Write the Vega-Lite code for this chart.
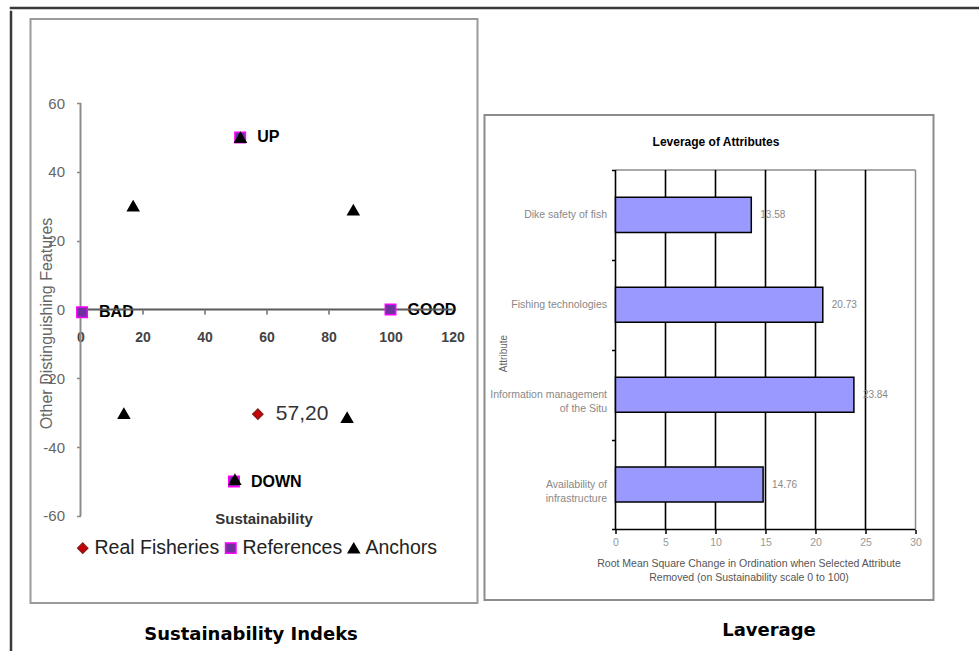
{
  "$schema": "https://vega.github.io/schema/vega-lite/v6.json",
  "padding": {"left": 9, "top": 6, "right": 0, "bottom": 0},
  "background": "white",
  "config": {"font": "Liberation Sans"},
  "spacing": 0,
  "vconcat": [
    {
      "width": 967,
      "height": 0.01,
      "view": {"stroke": "#3a3a3a", "strokeWidth": 2.5},
      "data": {"values": []},
      "mark": "point"
    },
    {
      "spacing": 16.5,
      "hconcat": [
        {
          "width": 0.01,
          "height": 640,
          "view": {"stroke": "#3a3a3a", "strokeWidth": 2.5},
          "data": {"values": []},
          "mark": "point"
        },
        {
          "spacing": 0,
          "vconcat": [
            {
              "width": 10,
              "height": 5.5,
              "view": {"stroke": null},
              "data": {"values": []},
              "mark": "point"
            },
            {
              "spacing": 5,
              "hconcat": [
                {
                  "width": 447,
                  "height": 584,
                  "view": {"stroke": "#9a9a9a", "strokeWidth": 2},
                  "title": {"text": "Sustainability Indeks", "orient": "bottom", "anchor": "middle", "offset": 23, "dx": -3, "font": "DejaVu Sans", "fontSize": 18, "fontWeight": "bold", "color": "#000000"},
                  "data": {
                    "values": [
                      {"series": "References", "sustainability": 0.5, "other": -0.8, "label": "BAD"},
                      {"series": "References", "sustainability": 100, "other": 0, "label": "GOOD"},
                      {"series": "References", "sustainability": 51.5, "other": 50, "label": "UP"},
                      {"series": "References", "sustainability": 49.5, "other": -50, "label": "DOWN"},
                      {"series": "Anchors", "sustainability": 51.6, "other": 50, "label": ""},
                      {"series": "Anchors", "sustainability": 49.8, "other": -49.4, "label": ""},
                      {"series": "Anchors", "sustainability": 17, "other": 30.1, "label": ""},
                      {"series": "Anchors", "sustainability": 88, "other": 28.9, "label": ""},
                      {"series": "Anchors", "sustainability": 14, "other": -30.2, "label": ""},
                      {"series": "Anchors", "sustainability": 86, "other": -31.4, "label": ""},
                      {"series": "Real Fisheries", "sustainability": 57.2, "other": -30.4, "label": "57,20"}
                    ]
                  },
                  "layer": [
                    {
                      "transform": [{"filter": "datum.series === 'References'"}],
                      "mark": {"type": "text", "align": "left", "baseline": "middle", "dx": 17, "fontSize": 16, "fontWeight": "bold", "color": "#000000"},
                      "encoding": {
                        "x": {"field": "sustainability", "type": "quantitative", "scale": {"domain": [-16.13, 128.06], "nice": false, "zero": false},
                          "axis": {"orient": "bottom", "offset": -293, "values": [0, 20, 40, 60, 80, 100, 120], "domain": false, "grid": false, "tickColor": "#666666", "tickSize": 4, "tickWidth": 1.5, "labelFont": "Liberation Sans", "labelFontSize": 14, "labelFontWeight": "bold", "labelColor": "#444444", "labelPadding": 16, "title": "Sustainability", "titleFont": "Liberation Sans", "titleFontSize": 15, "titleFontWeight": "bold", "titleColor": "#333333", "titleX": 233, "titleY": 208, "titleAlign": "center", "titleBaseline": "middle"}},
                        "y": {"field": "other", "type": "quantitative", "scale": {"domain": [-85.28, 84.41], "nice": false, "zero": false},
                          "axis": {"orient": "left", "offset": -50, "values": [-60, -40, -20, 0, 20, 40, 60], "domain": false, "grid": false, "tickColor": "#888888", "tickSize": 4, "tickWidth": 1.5, "labelFont": "Liberation Sans", "labelFontSize": 15, "labelColor": "#666666", "labelPadding": 12, "labelExpr": "datum.value < 0 ? '-' + abs(datum.value) : '' + datum.value", "title": "Other Distinguishing Features", "titleFont": "Liberation Sans", "titleFontSize": 16, "titleFontWeight": "normal", "titleColor": "#666666", "titleAngle": -90, "titleX": -34, "titleY": 304, "titleAlign": "center", "titleBaseline": "middle"}},
                        "text": {"field": "label"}
                      }
                    },
                    {
                      "transform": [{"filter": "datum.series === 'Real Fisheries'"}],
                      "mark": {"type": "text", "align": "left", "baseline": "middle", "dx": 18, "fontSize": 21, "color": "#333333"},
                      "encoding": {
                        "x": {"field": "sustainability", "type": "quantitative", "scale": {"domain": [-16.13, 128.06], "nice": false, "zero": false}},
                        "y": {"field": "other", "type": "quantitative", "scale": {"domain": [-85.28, 84.41], "nice": false, "zero": false}},
                        "text": {"field": "label"}
                      }
                    },
                    {
                      "data": {"values": [{}]},
                      "mark": {"type": "rule", "color": "#8c8c8c", "strokeWidth": 2},
                      "encoding": {
                        "x": {"datum": 0, "scale": {"domain": [-16.13, 128.06], "nice": false, "zero": false}},
                        "y": {"datum": -60, "scale": {"domain": [-85.28, 84.41], "nice": false, "zero": false}},
                        "y2": {"datum": 60}
                      }
                    },
                    {
                      "data": {"values": [{}]},
                      "mark": {"type": "rule", "color": "#5a5a5a", "strokeWidth": 2},
                      "encoding": {
                        "y": {"datum": 0, "scale": {"domain": [-85.28, 84.41], "nice": false, "zero": false}},
                        "x": {"datum": 0, "scale": {"domain": [-16.13, 128.06], "nice": false, "zero": false}},
                        "x2": {"datum": 120}
                      }
                    },
                    {
                      "mark": {"type": "point", "filled": true, "opacity": 1, "strokeWidth": 1.5},
                      "encoding": {
                        "x": {"field": "sustainability", "type": "quantitative", "scale": {"domain": [-16.13, 128.06], "nice": false, "zero": false}},
                        "y": {"field": "other", "type": "quantitative", "scale": {"domain": [-85.28, 84.41], "nice": false, "zero": false}},
                        "shape": {"field": "series", "type": "nominal",
                          "scale": {"domain": ["Real Fisheries", "References", "Anchors"], "range": ["diamond", "square", "triangle-up"]},
                          "legend": {"orient": "none", "legendX": 62, "legendY": 530, "direction": "horizontal", "title": null, "padding": 0, "labelFont": "Liberation Sans", "labelFontSize": 19.5, "labelColor": "#222222", "labelOffset": 2, "columnPadding": 1, "symbolStrokeWidth": 1.5}},
                        "fill": {"field": "series", "type": "nominal", "scale": {"domain": ["Real Fisheries", "References", "Anchors"], "range": ["#cc0000", "#7030a0", "#000000"]}},
                        "stroke": {"field": "series", "type": "nominal", "scale": {"domain": ["Real Fisheries", "References", "Anchors"], "range": ["#8b1a1a", "#ff00ff", "#000000"]}},
                        "size": {"field": "series", "type": "nominal", "scale": {"domain": ["Real Fisheries", "References", "Anchors"], "range": [100, 120, 70]}}
                      }
                    }
                  ]
                },
                {
                  "spacing": 0,
                  "title": {"text": "Laverage", "orient": "bottom", "anchor": "middle", "offset": 21, "dx": 60, "font": "DejaVu Sans", "fontSize": 18, "fontWeight": "bold", "color": "#000000"},
                  "vconcat": [
                    {
                      "width": 449,
                      "height": 90,
                      "view": {"stroke": null},
                      "data": {"values": []},
                      "mark": "point"
                    },
                    {
                      "width": 449,
                      "height": 485,
                      "view": {"stroke": "#8c8c8c", "strokeWidth": 2},
                      "title": {"text": "Leverage of Attributes", "orient": "top", "anchor": "middle", "offset": -39, "dx": 7, "font": "Liberation Sans", "fontSize": 12, "fontWeight": "bold", "color": "#000000"},
                      "data": {
                        "values": [
                          {"attribute": "Dike safety of fish", "rms": 13.58},
                          {"attribute": "Fishing technologies", "rms": 20.73},
                          {"attribute": "Information management\nof the Situ", "rms": 23.84},
                          {"attribute": "Availability of\ninfrastructure", "rms": 14.76}
                        ]
                      },
                      "layer": [
                        {
                          "data": {"values": [{}]},
                          "mark": {"type": "rule", "color": "#8c8c8c", "strokeWidth": 1.5},
                          "encoding": {
                            "y": {"datum": "Dike safety of fish", "type": "nominal", "bandPosition": 0, "scale": {"domain": ["Dike safety of fish", "Fishing technologies", "Information management\nof the Situ", "Availability of\ninfrastructure"], "paddingInner": 0, "paddingOuter": 0.698, "align": 0.438}},
                            "x": {"datum": 0, "scale": {"domain": [-13.1, 31.8], "nice": false, "zero": false}},
                            "x2": {"datum": 30}
                          }
                        },
                        {
                          "data": {"values": [{"tick": 30}]},
                          "mark": {"type": "rule", "color": "#8c8c8c", "strokeWidth": 1.5},
                          "encoding": {
                            "x": {"field": "tick", "type": "quantitative", "scale": {"domain": [-13.1, 31.8], "nice": false, "zero": false}},
                            "y": {"datum": "Dike safety of fish", "type": "nominal", "bandPosition": 0, "scale": {"domain": ["Dike safety of fish", "Fishing technologies", "Information management\nof the Situ", "Availability of\ninfrastructure"], "paddingInner": 0, "paddingOuter": 0.698, "align": 0.438}},
                            "y2": {"datum": "Availability of\ninfrastructure", "bandPosition": 1}
                          }
                        },
                        {
                          "data": {"values": [{"tick": 0}, {"tick": 5}, {"tick": 10}, {"tick": 15}, {"tick": 20}, {"tick": 25}]},
                          "mark": {"type": "rule", "color": "#000000", "strokeWidth": 1.6},
                          "encoding": {
                            "x": {"field": "tick", "type": "quantitative", "scale": {"domain": [-13.1, 31.8], "nice": false, "zero": false}},
                            "y": {"datum": "Dike safety of fish", "type": "nominal", "bandPosition": 0, "scale": {"domain": ["Dike safety of fish", "Fishing technologies", "Information management\nof the Situ", "Availability of\ninfrastructure"], "paddingInner": 0, "paddingOuter": 0.698, "align": 0.438}},
                            "y2": {"datum": "Availability of\ninfrastructure", "bandPosition": 1}
                          }
                        },
                        {
                          "mark": {"type": "bar", "height": {"band": 0.39}, "fill": "#9999ff", "stroke": "#000000", "strokeWidth": 1.5},
                          "encoding": {
                            "y": {"field": "attribute", "type": "nominal", "sort": null,
                              "scale": {"domain": ["Dike safety of fish", "Fishing technologies", "Information management\nof the Situ", "Availability of\ninfrastructure"], "paddingInner": 0, "paddingOuter": 0.698, "align": 0.438},
                              "axis": {"orient": "left", "offset": -131, "domain": false, "grid": false, "tickBand": "extent", "tickColor": "#000000", "tickSize": 4, "tickWidth": 1.5, "labelFont": "Liberation Sans", "labelFontSize": 10.5, "labelColor": "#888888", "labelPadding": 5, "labelLineHeight": 14, "labelExpr": "split(datum.label, '\\n')", "title": "Attribute", "titleFont": "Liberation Sans", "titleFontSize": 10, "titleFontWeight": "normal", "titleColor": "#666666", "titleAngle": -90, "titleX": -112, "titleY": 238, "titleAlign": "center", "titleBaseline": "middle"}},
                            "x": {"field": "rms", "type": "quantitative", "scale": {"domain": [-13.1, 31.8], "nice": false, "zero": false},
                              "axis": {"orient": "bottom", "offset": -70.5, "values": [0, 5, 10, 15, 20, 25, 30], "domain": false, "grid": false, "tickColor": "#000000", "tickSize": 4, "tickWidth": 1.5, "labelFont": "Liberation Sans", "labelFontSize": 10.5, "labelColor": "#999999", "labelPadding": 4,
                                "title": ["Root Mean Square Change in Ordination when Selected Attribute", "Removed (on Sustainability scale 0 to 100)"], "titleFont": "Liberation Sans", "titleFontSize": 10.5, "titleFontWeight": "normal", "titleColor": "#555555", "titleLineHeight": 14, "titleX": 264, "titleY": 29, "titleAlign": "center", "titleBaseline": "top"}},
                            "x2": {"datum": 0}
                          }
                        },
                        {
                          "data": {"values": [{}]},
                          "mark": {"type": "rule", "color": "#000000", "strokeWidth": 1.6},
                          "encoding": {
                            "y": {"datum": "Availability of\ninfrastructure", "type": "nominal", "bandPosition": 1, "scale": {"domain": ["Dike safety of fish", "Fishing technologies", "Information management\nof the Situ", "Availability of\ninfrastructure"], "paddingInner": 0, "paddingOuter": 0.698, "align": 0.438}},
                            "x": {"datum": 0, "scale": {"domain": [-13.1, 31.8], "nice": false, "zero": false}},
                            "x2": {"datum": 30}
                          }
                        },
                        {
                          "mark": {"type": "text", "align": "left", "baseline": "middle", "dx": 9, "fontSize": 10, "color": "#888888"},
                          "encoding": {
                            "y": {"field": "attribute", "type": "nominal", "sort": null, "scale": {"domain": ["Dike safety of fish", "Fishing technologies", "Information management\nof the Situ", "Availability of\ninfrastructure"], "paddingInner": 0, "paddingOuter": 0.698, "align": 0.438}},
                            "x": {"field": "rms", "type": "quantitative", "scale": {"domain": [-13.1, 31.8], "nice": false, "zero": false}},
                            "text": {"field": "rms", "type": "quantitative", "format": ".2f"}
                          }
                        }
                      ]
                    }
                  ]
                }
              ]
            }
          ]
        }
      ]
    }
  ]
}
